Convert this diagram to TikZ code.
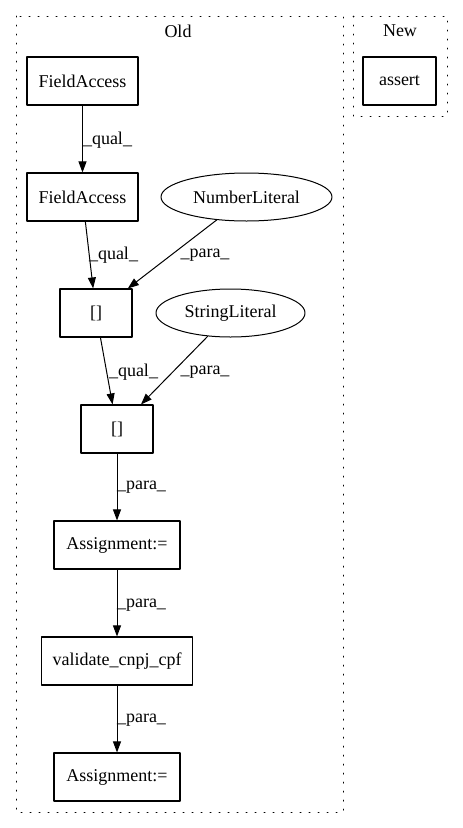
\documentclass[tikz,border=0pt]{standalone}
\usepackage{fontspec}
\setmainfont{Liberation Serif}
\usetikzlibrary{arrows.meta}
\usetikzlibrary{shapes.geometric}

\begin{document}
\begin{tikzpicture}[x=1pt,y=-1pt,line cap=round,line join=round,>={Triangle[length=11pt,width=8pt]},
    every node/.style={font=\fontsize{18}{21}\selectfont},
    box/.style={draw,rectangle,line width=1.1pt,minimum height=48pt,inner sep=0pt},
    oval/.style={draw,ellipse,line width=1pt,minimum height=48pt,inner sep=0pt},
    lbl/.style={inner sep=0pt},
    flow/.style={->,line width=1pt},
    cluster/.style={line width=1pt,dash pattern=on 1pt off 8pt}]
        \useasboundingbox (0,0) rectangle (463,828);
        % clusters
        \draw [cluster] (16,16) rectangle (343,812);
        \node (old) at (178,31) {Old};
        \draw [cluster] (353,16) rectangle (447,116);
        \node (new) at (400,31) {New};
        % new side
        \node [box,minimum width=73pt] (assert) at (399.5,81) {assert};
        % old side
        \node [box,minimum width=111pt] (fa1) at (82.5,81) {FieldAccess};
        \node [box,minimum width=111pt] (fa2) at (82.5,197) {FieldAccess};
        \node [oval,minimum width=171pt] (num) at (246.5,197) {NumberLiteral};
        \node [box,minimum width=72pt] (idx1) at (96,313) {[]};
        \node [oval,minimum width=149pt] (str) at (230.5,313) {StringLiteral};
        \node [box,minimum width=72pt] (idx2) at (117,429) {[]};
        \node [box,minimum width=126pt] (asg1) at (117,545) {Assignment:=};
        \node [box,minimum width=151pt] (valid) at (117,661) {validate\_cnpj\_cpf};
        \node [box,minimum width=126pt] (asg2) at (117,777) {Assignment:=};
        % edges
        \draw [flow] (fa1) -- (fa2);
        \node [lbl] (l1) at (107.5,140) {\_qual\_};
        \draw [flow] (fa2) -- (idx1);
        \node [lbl] (l2) at (113.5,255) {\_qual\_};
        \draw [flow] (num) -- (idx1);
        \node [lbl] (l3) at (205,255) {\_para\_};
        \draw [flow] (idx1) -- (idx2);
        \node [lbl] (l4) at (133.5,372) {\_qual\_};
        \draw [flow] (str) -- (idx2);
        \node [lbl] (l5) at (205,372) {\_para\_};
        \draw [flow] (idx2) -- (asg1);
        \node [lbl] (l6) at (141.5,487) {\_para\_};
        \draw [flow] (asg1) -- (valid);
        \node [lbl] (l7) at (141.5,605) {\_para\_};
        \draw [flow] (valid) -- (asg2);
        \node [lbl] (l8) at (141.5,720) {\_para\_};
\end{tikzpicture}
\end{document}
